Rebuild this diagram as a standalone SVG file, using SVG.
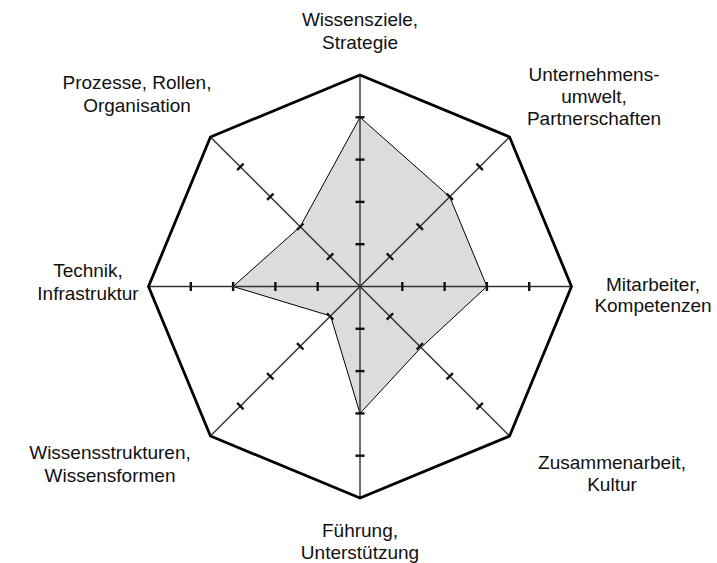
<svg xmlns="http://www.w3.org/2000/svg" width="717" height="563" viewBox="0 0 717 563">
  <style>
    .lbl { font-family: "Liberation Sans", Arial, sans-serif; font-size: 19px; fill: #111; text-anchor: middle; }
    .axis { stroke: #333; stroke-width: 1.4; }
    .tick { stroke: #111; stroke-width: 2.4; }
    .frame { fill: none; stroke: #000; stroke-width: 2.8; stroke-linejoin: miter; }
    .data { fill: #dcdcdc; stroke: #000; stroke-width: 1; stroke-linejoin: miter; }
  </style>
  <defs>
    <!-- one spoke pointing up from the centre, with ticks at levels 1 to 4 -->
    <g id="spoke">
      <line class="axis" x1="360" y1="286.5" x2="360" y2="75"/>
      <line class="tick" x1="355.5" y1="244.2" x2="364.5" y2="244.2"/>
      <line class="tick" x1="355.5" y1="201.9" x2="364.5" y2="201.9"/>
      <line class="tick" x1="355.5" y1="159.6" x2="364.5" y2="159.6"/>
      <line class="tick" x1="355.5" y1="117.3" x2="364.5" y2="117.3"/>
    </g>
  </defs>

  <!-- profile values -->
  <g id="profile">
    <polygon class="data" points="360,117.3 449.7,196.8 486.9,286.5 421,347.5 360,413.4 330.6,316 233.1,286.5 300.2,226.7"/>
  </g>

  <!-- spokes -->
  <g id="axes">
    <use href="#spoke"/>
    <use href="#spoke" transform="rotate(45 360 286.5)"/>
    <use href="#spoke" transform="rotate(90 360 286.5)"/>
    <use href="#spoke" transform="rotate(135 360 286.5)"/>
    <use href="#spoke" transform="rotate(180 360 286.5)"/>
    <use href="#spoke" transform="rotate(225 360 286.5)"/>
    <use href="#spoke" transform="rotate(270 360 286.5)"/>
    <use href="#spoke" transform="rotate(315 360 286.5)"/>
  </g>

  <!-- outer octagon -->
  <g id="frame">
    <polygon class="frame" points="360,75 509.55,136.95 571.5,286.5 509.55,436.05 360,498 210.45,436.05 148.5,286.5 210.45,136.95"/>
  </g>

  <!-- dimension labels -->
  <g id="label-n">
    <text class="lbl" x="360" y="26">Wissensziele,</text>
    <text class="lbl" x="360" y="49">Strategie</text>
  </g>
  <g id="label-ne">
    <text class="lbl" x="594" y="81">Unternehmens-</text>
    <text class="lbl" x="594" y="103">umwelt,</text>
    <text class="lbl" x="594" y="125">Partnerschaften</text>
  </g>
  <g id="label-e">
    <text class="lbl" x="653" y="291">Mitarbeiter,</text>
    <text class="lbl" x="653" y="312">Kompetenzen</text>
  </g>
  <g id="label-se">
    <text class="lbl" x="612" y="469">Zusammenarbeit,</text>
    <text class="lbl" x="612" y="491">Kultur</text>
  </g>
  <g id="label-s">
    <text class="lbl" x="360" y="537">Führung,</text>
    <text class="lbl" x="360" y="559">Unterstützung</text>
  </g>
  <g id="label-sw">
    <text class="lbl" x="110" y="459">Wissensstrukturen,</text>
    <text class="lbl" x="110" y="482">Wissensformen</text>
  </g>
  <g id="label-w">
    <text class="lbl" x="88" y="277">Technik,</text>
    <text class="lbl" x="88" y="300">Infrastruktur</text>
  </g>
  <g id="label-nw">
    <text class="lbl" x="137" y="89">Prozesse, Rollen,</text>
    <text class="lbl" x="137" y="112">Organisation</text>
  </g>
</svg>
